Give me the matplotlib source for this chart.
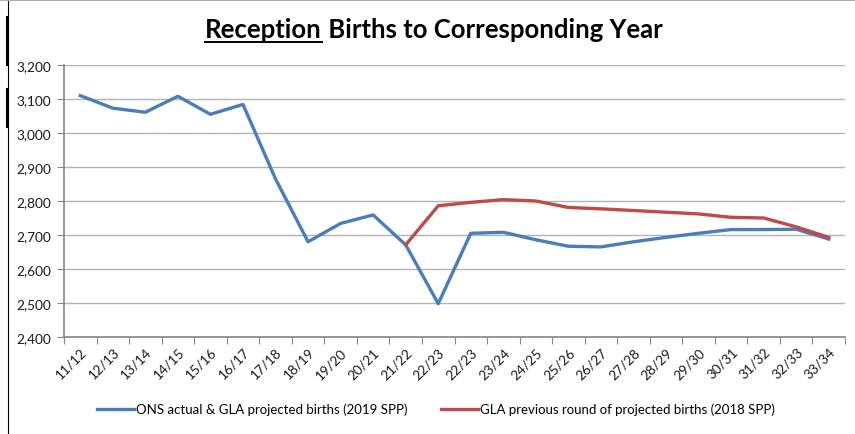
import matplotlib
matplotlib.use("Agg")
import matplotlib.pyplot as plt
from matplotlib.lines import Line2D
import numpy as np

plt.rcParams['font.family'] = ['Lato', 'DejaVu Sans']

years = ["11/12", "12/13", "13/14", "14/15", "15/16", "16/17", "17/18", "18/19",
         "19/20", "20/21", "21/22", "22/23", "22/23", "23/24", "24/25", "25/26",
         "26/27", "27/28", "28/29", "29/30", "30/31", "31/32", "32/33", "33/34"]
ons_2019 = [3110, 3073, 3061, 3108, 3055, 3084, 2865, 2680, 2734, 2759, 2671, 2498,
            2705, 2708, 2686, 2667, 2665, 2680, 2693, 2705, 2716, 2716, 2717, 2688]
gla_2018 = [None] * 10 + [2671, 2786, 2796, 2804, 2800, 2781, 2777, 2772, 2767, 2762,
                          2752, 2750, 2724, 2693]
yticks = [2400, 2500, 2600, 2700, 2800, 2900, 3000, 3100, 3200]

W, H = 855, 435
fig = plt.figure(figsize=(W / 100, H / 100), dpi=100)
ax = fig.add_axes([64 / W, 1 - 338 / H, (845 - 64) / W, (338 - 66) / H])

x = np.arange(len(years))
red_x = [i for i, v in enumerate(gla_2018) if v is not None]
red_y = [v for v in gla_2018 if v is not None]

ax.plot(x, ons_2019, color='#4A7EBB', lw=2.4, solid_joinstyle='round',
        label='ONS actual & GLA projected births (2019 SPP)', zorder=3)
ax.plot(red_x, red_y, color='#BE4B48', lw=2.4, solid_joinstyle='round',
        label='GLA previous round of projected births (2018 SPP)', zorder=3)

ax.set_xlim(-0.5, len(years) - 0.5)
ax.set_ylim(2400, 3200)
ax.set_yticks(yticks)
ax.set_yticklabels([f"{v:,}" for v in yticks], fontsize=9.8, color='#1a1a1a')
ax.yaxis.grid(True, color='#b3b3b3', lw=1.0)
ax.set_axisbelow(True)

ax.set_xticks(np.arange(-0.5, len(years), 1.0))
ax.set_xticklabels([])
ax.set_xticks(x, minor=True)
ax.set_xticklabels(years, minor=True, rotation=45, ha='right', rotation_mode='anchor',
                   fontsize=9.8, color='#1a1a1a')
ax.tick_params(axis='x', which='major', length=5, color='#868686', direction='out')
ax.tick_params(axis='x', which='minor', length=0, pad=6)
ax.tick_params(axis='y', length=5, color='#868686', direction='out', pad=4)

for s in ['top', 'right']:
    ax.spines[s].set_visible(False)
for s in ['left', 'bottom']:
    ax.spines[s].set_color('#868686')
    ax.spines[s].set_linewidth(1.2)

ax.legend(loc='center', bbox_to_anchor=(436 / W, 1 - 410 / H),
          bbox_transform=fig.transFigure, ncol=2, frameon=False, fontsize=9.5,
          handlelength=2.8, handletextpad=0.1, columnspacing=2.6)

# Title with underlined "Reception"
t1 = fig.text(205 / W, 1 - 38 / H, "Reception", fontsize=18.5, fontweight='bold',
              ha='left', va='baseline')
t2 = ax.annotate(" Births to Corresponding Year", xy=(1, 0), xycoords=t1,
                 fontsize=18.5, fontweight='bold', ha='left', va='bottom',
                 annotation_clip=False)
fig.canvas.draw()
bb = t1.get_window_extent()
uy = (1 - 43 / H)
fig.add_artist(Line2D([bb.x0 / W, bb.x1 / W], [uy, uy], transform=fig.transFigure,
                      color='black', lw=1.4))

# Frame artifacts
fig.add_artist(Line2D([8 / W, 8 / W], [0, 1], transform=fig.transFigure,
                      color='black', lw=0.8))
fig.add_artist(Line2D([0, 1], [1 - 0.5 / H, 1 - 0.5 / H], transform=fig.transFigure,
                      color='#b0b0b0', lw=0.8))
for y0, y1 in [(18, 65), (90, 127)]:
    fig.add_artist(Line2D([7 / W, 7 / W], [1 - y0 / H, 1 - y1 / H],
                          transform=fig.transFigure, color='black', lw=2.2))

fig.savefig("out.png", dpi=100)
